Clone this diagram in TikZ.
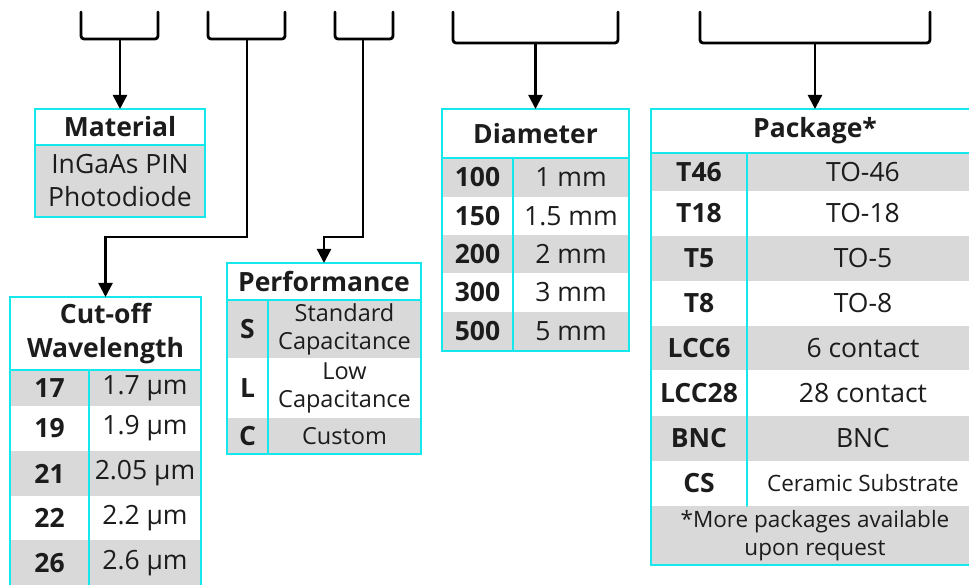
\documentclass[tikz,border=0pt]{standalone}
\usepackage{fontspec}
\setmainfont{Open Sans}
\usetikzlibrary{arrows.meta}
\definecolor{edge}{RGB}{20,232,236}
\definecolor{rowgray}{RGB}{217,217,217}
\definecolor{ink}{RGB}{28,28,28}
\newcommand\headfs{\fontsize{26.5}{34}\selectfont}
\newcommand\bigfs{\fontsize{26.5}{33}\selectfont}
\newcommand\midfs{\fontsize{23.5}{28}\selectfont}
\newcommand\notefs{\fontsize{22.5}{28}\selectfont}
\newcommand\smallfs{\fontsize{22.5}{28}\selectfont}

\begin{document}
\begin{tikzpicture}[x=1pt,y=-1pt,line cap=round,
  every node/.style={text=ink,font=\bigfs},
  cell/.style={anchor=north west,inner sep=0pt,outer sep=0pt,align=center},
  head/.style={cell,font=\bfseries\headfs},
  key/.style={cell,font=\bfseries\bigfs},
  frame/.style={draw=edge,line width=2pt},
  arr/.style={line width=2.4pt,-{Triangle[width=14pt,length=14pt]}},
  brk/.style={line width=2.8pt,rounded corners=3pt}]
\useasboundingbox (0,0) rectangle (969,585);
% brackets over the part number
\foreach \n/\l/\r/\b/\m in {mat/81/158/39/120,cut/208/285/39/247,perf/335/393/39/363,dia/453/618/43/535.5,pkg/700/930/43/815}{
  \draw[brk] (\l,12) -- (\l,\b) -- (\r,\b) -- (\r,12);
  \coordinate (br\n) at (\m,\b);}

% material
\node[head,minimum width=170,minimum height=36] (matHead) at (35,109) {Material};
\node[cell,fill=rowgray,minimum width=170,minimum height=72] (matBody) at (35,145) {InGaAs PIN\\Photodiode};
\draw[frame] (matHead.north west) rectangle (matBody.south east);
\draw[frame] (matHead.south west) -- (matHead.south east);

% cut-off wavelength
\node[head,minimum width=191,minimum height=73] (cutHead) at (10,297) {Cut-off\\Wavelength};
\foreach \y/\h/\k/\v/\c in {370/36/17/1.7/rowgray,406/45/19/1.9/white,451/45/21/2.05/rowgray,496/44/22/2.2/white,540/47/26/2.6/rowgray}{
  \node[key,fill=\c,minimum width=79,minimum height=\h] (cut\k) at (10,\y) {\k};
  \node[cell,fill=\c,minimum width=112,minimum height=\h] (cutv\k) at (89,\y) {\v\ µm};}
\draw[frame] (cutHead.north west) rectangle (cutv26.south east);
\draw[frame] (cutHead.south west) -- (cutHead.south east);
\draw[frame] (cut17.north east) -- (cut26.south east);

% performance
\node[head,minimum width=194,minimum height=37] (perfHead) at (227,263) {Performance};
\foreach \y/\h/\k/\v/\c in {300/58/S/{Standard\\Capacitance}/rowgray,358/60/L/{Low\\Capacitance}/white,418/36/C/Custom/rowgray}{
  \node[key,fill=\c,minimum width=41,minimum height=\h] (perf\k) at (227,\y) {\k};
  \node[cell,fill=\c,font=\midfs,minimum width=153,minimum height=\h] (perfv\k) at (268,\y) {\v};}
\draw[frame] (perfHead.north west) rectangle (perfvC.south east);
\draw[frame] (perfHead.south west) -- (perfHead.south east);
\draw[frame] (perfS.north east) -- (perfC.south east);

% diameter
\node[head,minimum width=187,minimum height=49] (diaHead) at (442,109) {Diameter};
\foreach \y/\h/\k/\v/\c in {158/39/100/1/rowgray,197/38/150/1.5/white,235/38/200/2/rowgray,273/39/300/3/white,312/39/500/5/rowgray}{
  \node[key,fill=\c,minimum width=71,minimum height=\h] (dia\k) at (442,\y) {\k};
  \node[cell,fill=\c,minimum width=116,minimum height=\h] (diav\k) at (513,\y) {\v\ mm};}
\draw[frame] (diaHead.north west) rectangle (diav500.south east);
\draw[frame] (diaHead.south west) -- (diaHead.south east);
\draw[frame] (dia100.north east) -- (dia500.south east);

% package
\node[head,minimum width=328,minimum height=44] (pkgHead) at (651,109) {Package*};
\foreach \y/\h/\k/\v/\c in {153/38/T46/TO-46/rowgray,191/45/T18/TO-18/white,236/45/T5/TO-5/rowgray,281/45/T8/TO-8/white,326/44/LCC6/{6 contact}/rowgray,370/46/LCC28/{28 contact}/white,416/45/BNC/BNC/rowgray,461/45/CS/{\smallfs Ceramic Substrate}/white}{
  \node[key,fill=\c,minimum width=96,minimum height=\h] (pkg\k) at (651,\y) {\k};
  \node[cell,fill=\c,minimum width=232,minimum height=\h] (pkgv\k) at (747,\y) {\v};}
\node[cell,fill=rowgray,font=\notefs,minimum width=328,minimum height=59] (pkgNote) at (651,506) {*More packages available\\upon request};
\draw[frame] (pkgHead.north west) rectangle (pkgNote.south east);
\draw[frame] (pkgHead.south west) -- (pkgHead.south east);
\draw[frame] (pkgT46.north east) -- (pkgCS.south east);

% connectors
\draw[arr] (brmat) -- (matHead.north);
\draw[arr] (brcut) -- ++(0,198) -| (cutHead.north);
\draw[arr] (brperf) -- ++(0,198) -| (perfHead.north);
\draw[arr] (brdia) -- (diaHead.north);
\draw[arr] (brpkg) -- (pkgHead.north);
\end{tikzpicture}
\end{document}
